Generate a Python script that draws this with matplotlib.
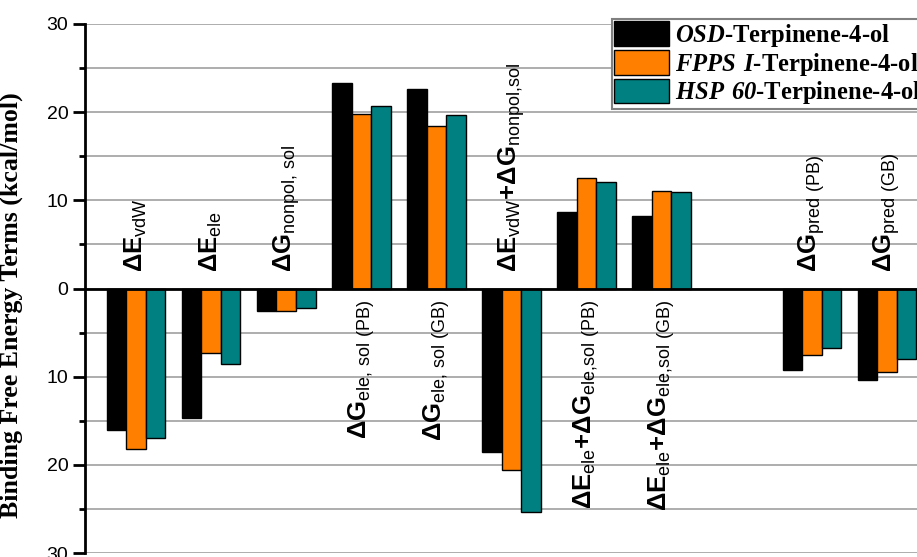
import matplotlib
matplotlib.use("Agg")
import matplotlib.pyplot as plt
import numpy as np
from matplotlib.ticker import FuncFormatter, MultipleLocator

# данные (kcal/mol), порядок групп как на рисунке; None - пустой слот
terms = [r"$\mathbf{ΔE}_{\mathrm{vdW}}$",
         r"$\mathbf{ΔE}_{\mathrm{ele}}$",
         r"$\mathbf{ΔG}_{\mathrm{nonpol{,}\ sol}}$",
         r"$\mathbf{ΔG}_{\mathrm{ele{,}\ sol\ (PB)}}$",
         r"$\mathbf{ΔG}_{\mathrm{ele{,}\ sol\ (GB)}}$",
         r"$\mathbf{ΔE}_{\mathrm{vdW}}\mathbf{+ΔG}_{\mathrm{nonpol{,}sol}}$",
         r"$\mathbf{ΔE}_{\mathrm{ele}}\mathbf{+ΔG}_{\mathrm{ele{,}sol\ (PB)}}$",
         r"$\mathbf{ΔE}_{\mathrm{ele}}\mathbf{+ΔG}_{\mathrm{ele{,}sol\ (GB)}}$",
         None,
         r"$\mathbf{ΔG}_{\mathrm{pred\ (PB)}}$",
         r"$\mathbf{ΔG}_{\mathrm{pred\ (GB)}}$"]

osd = [-16.1, -14.7, -2.6, 23.3, 22.6, -18.6, 8.7, 8.2, None, -9.2, -10.4]
fpps = [-18.2, -7.3, -2.5, 19.8, 18.4, -20.6, 12.5, 11.1, None, -7.5, -9.5]
hsp = [-16.9, -8.6, -2.2, 20.7, 19.7, -25.4, 12.1, 11.0, None, -6.7, -8.0]

series = [r"$\mathsf{OSD}$-Terpinene-4-ol",
          r"$\mathsf{FPPS\ I}$-Terpinene-4-ol",
          r"$\mathsf{HSP\ 60}$-Terpinene-4-ol"]
colors = ["#000000", "#FF8000", "#008080"]

# шрифты: подписи категорий - Arial bold, легенда - Times bold (sf = курсив)
plt.rcParams["mathtext.fontset"] = "custom"
plt.rcParams["mathtext.rm"] = "Liberation Sans"
plt.rcParams["mathtext.bf"] = "Liberation Sans:bold"
plt.rcParams["mathtext.sf"] = "Liberation Serif:italic:bold"
plt.rcParams["font.family"] = "Liberation Sans"

fig = plt.figure(figsize=(9.17, 5.57), dpi=100)
ax = fig.add_axes([85 / 917, 1 - 553 / 557, 832 / 917, 529 / 557])

x = np.arange(len(terms))
w = 0.26
for k, (vals, col, name) in enumerate(zip([osd, fpps, hsp], colors, series)):
    xs = [x[i] + (k - 1) * w for i in range(len(vals)) if vals[i] is not None]
    vs = [v for v in vals if v is not None]
    ax.bar(xs, vs, width=w, color=col, edgecolor="black", linewidth=1.0,
           label=name, zorder=3)

# подписи над/под нулём
for i, t in enumerate(terms):
    if t is None:
        continue
    if osd[i] < 0:
        ax.text(x[i], 1.9, t, rotation=90, ha="center", va="bottom",
                fontsize=18.5, zorder=4)
    else:
        ax.text(x[i], -1.2, t, rotation=90, ha="center", va="top",
                fontsize=18.5, zorder=4)

ax.set_xlim(-0.68, 10.4)
ax.set_ylim(-30, 30)
ax.yaxis.set_major_locator(MultipleLocator(10))
ax.yaxis.set_minor_locator(MultipleLocator(5))
ax.yaxis.set_major_formatter(FuncFormatter(lambda v, p: "%d" % abs(v)))
ax.tick_params(axis="y", which="major", length=9, width=2, labelsize=14, pad=3)
ax.tick_params(axis="y", which="minor", length=4, width=2)
ax.set_xticks([])
ax.grid(axis="y", which="both", color="#a0a0a0", linewidth=1.2, zorder=0)
ax.axhline(0, color="black", linewidth=2, zorder=5)
for s in ["top", "right", "bottom"]:
    ax.spines[s].set_visible(False)
ax.spines["left"].set_linewidth(2)
ax.spines["left"].set_zorder(6)

ax.set_ylabel("Binding Free Energy Terms (kcal/mol)", family="Liberation Serif",
              fontweight="bold", fontsize=18.6)
ax.yaxis.set_label_coords(-0.075, 0.469)

leg = ax.legend(loc="upper left", bbox_to_anchor=((612 - 85) / 832, 1 + 5 / 529),
                prop={"family": "Liberation Serif", "weight": "bold", "size": 17.7},
                handlelength=2.2, handleheight=1.15, labelspacing=0.05,
                handletextpad=0.25, borderpad=0.1, borderaxespad=0,
                fancybox=False, framealpha=1, edgecolor="#808080")
leg.get_frame().set_linewidth(1.5)
leg.set_zorder(10)

fig.savefig("out.png", dpi=100)
